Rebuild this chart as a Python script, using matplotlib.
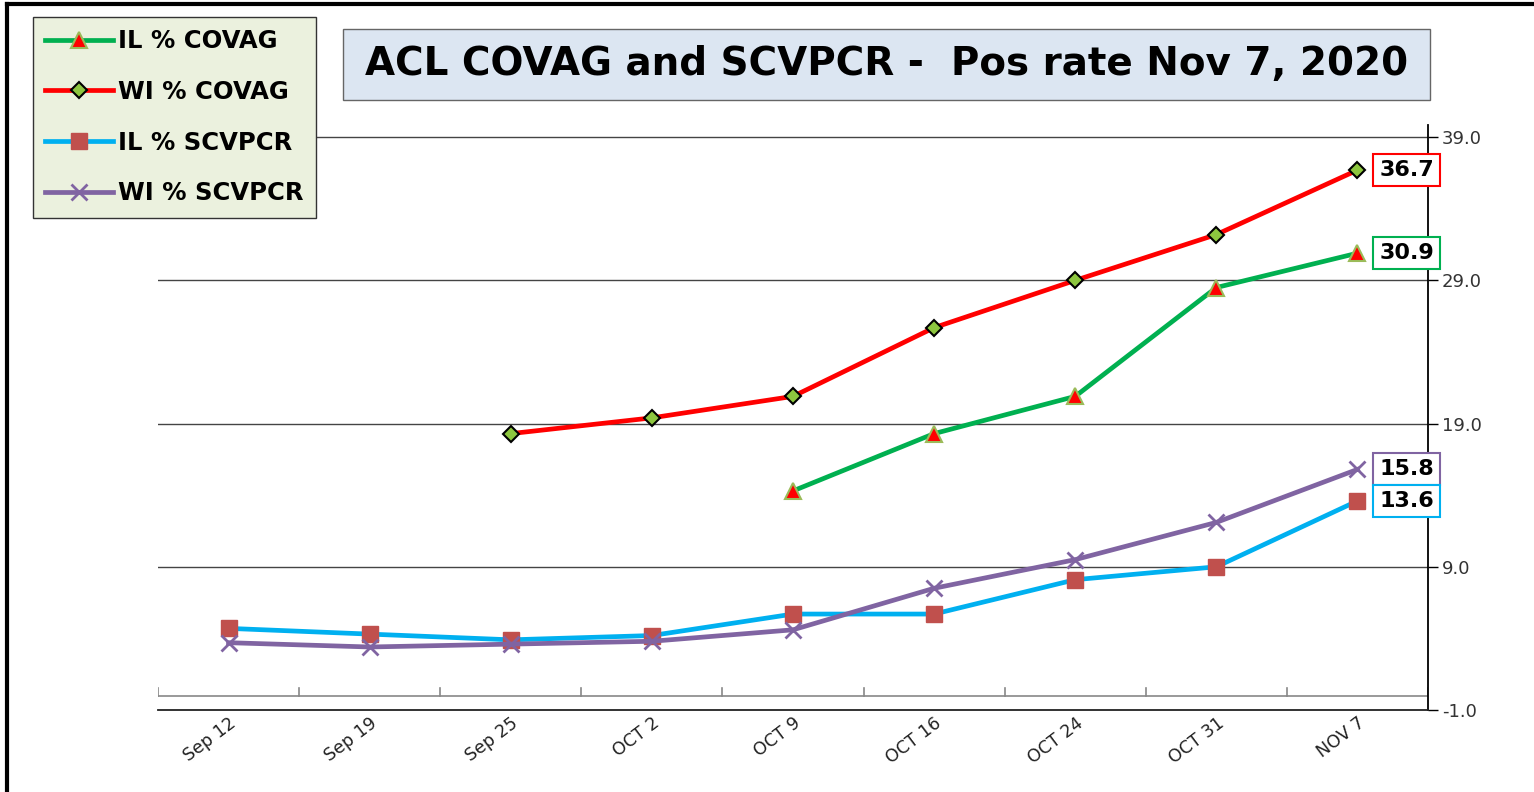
import numpy as np
import matplotlib.pyplot as plt
from matplotlib.lines import Line2D
from matplotlib.patches import Rectangle

plt.rcParams['font.family'] = ['DejaVu Sans']

# Data
weeks = ["Sep 12", "Sep 19", "Sep 25", "OCT 2", "OCT 9", "OCT 16", "OCT 24", "OCT 31", "NOV 7"]
il_covag = [np.nan, np.nan, np.nan, np.nan, 14.3, 18.3, 20.9, 28.5, 30.9]
wi_covag = [np.nan, np.nan, 18.3, 19.4, 20.9, 25.7, 29.0, 32.2, 36.7]
il_scvpcr = [4.7, 4.3, 3.9, 4.2, 5.7, 5.7, 8.1, 9.0, 13.6]
wi_scvpcr = [3.7, 3.4, 3.6, 3.8, 4.6, 7.5, 9.5, 12.1, 15.8]
y_ticks = [-1.0, 9.0, 19.0, 29.0, 39.0]
title = "ACL COVAG and SCVPCR -  Pos rate Nov 7, 2020"

fig = plt.figure(figsize=(15.34, 7.92), dpi=100)
ax = fig.add_axes([158 / 1534, 1 - 710 / 792, (1428 - 158) / 1534, (710 - 125) / 792])

x = np.arange(len(weeks))

# gridlines (not at the bottom)
for yv in y_ticks[1:]:
    ax.axhline(yv, color="#444444", linewidth=1.0, zorder=1)

# category axis line at y=0 with ticks between categories
ax.axhline(0, color="#888888", linewidth=1.2, zorder=1)
for b in np.arange(-0.5, len(weeks), 1.0):
    ax.plot([b, b], [0, 0.55], color="#888888", linewidth=1.2, zorder=1)

ax.plot(x, il_covag, color="#00B050", linewidth=3.4, marker="^", markersize=12,
        markerfacecolor="#FF0000", markeredgecolor="#9BBB59", markeredgewidth=1.5,
        label="IL % COVAG", zorder=3)
ax.plot(x, wi_covag, color="#FF0000", linewidth=3.4, marker="D", markersize=8.5,
        markerfacecolor="#8DC63F", markeredgecolor="#000000", markeredgewidth=1.5,
        label="WI % COVAG", zorder=3)
ax.plot(x, il_scvpcr, color="#00B0F0", linewidth=3.4, marker="s", markersize=12,
        markerfacecolor="#C0504D", markeredgecolor="#C0504D",
        label="IL % SCVPCR", zorder=3)
ax.plot(x, wi_scvpcr, color="#8064A2", linewidth=3.4, marker="x", markersize=11,
        markeredgewidth=2, label="WI % SCVPCR", zorder=3)

ax.set_xlim(-0.5, len(weeks) - 0.5)
ax.set_ylim(-1.0, 39.85)

for side in ["top", "left"]:
    ax.spines[side].set_visible(False)
ax.spines["bottom"].set_color("#222222")
ax.spines["right"].set_color("#000000")
ax.spines["bottom"].set_linewidth(1.3)
ax.spines["right"].set_linewidth(1.3)

ax.yaxis.tick_right()
ax.set_yticks(y_ticks)
ax.set_yticklabels([f"{v:.1f}" for v in y_ticks], fontsize=13, color="#333333")
ax.tick_params(axis="y", direction="out", length=7, width=1.0, pad=3)

ax.set_xticks(x)
ax.set_xticklabels(weeks, fontsize=12.5, color="#222222", rotation=37,
                   ha="right", va="top", rotation_mode="anchor")
ax.tick_params(axis="x", length=0, pad=3)

# end-point value labels
end_labels = [(wi_covag, "#FF0000"), (il_covag, "#00B050"),
              (wi_scvpcr, "#8064A2"), (il_scvpcr, "#00B0F0")]
for series, col in end_labels:
    ax.annotate(f"{series[-1]:.1f}", xy=(x[-1], series[-1]), xytext=(22, 0),
                textcoords="offset pixels", ha="left", va="center",
                fontsize=16, fontweight="bold", color="black", zorder=5,
                annotation_clip=False,
                bbox=dict(boxstyle="square,pad=0.27", facecolor="white",
                          edgecolor=col, linewidth=1.5))

# legend
leg = fig.legend(loc="upper left", bbox_to_anchor=(33 / 1534, 1 - 17 / 792),
                 prop={"weight": "bold", "size": 17.5}, frameon=True, fancybox=False,
                 handlelength=2.8, handletextpad=0.2, labelspacing=1.1,
                 borderpad=0.5, borderaxespad=0)
leg.get_frame().set_facecolor("#EBF1DE")
leg.get_frame().set_edgecolor("#333333")
leg.get_frame().set_linewidth(1.0)
leg.get_frame().set_alpha(1)

# title box
fig.text((343 + 1430) / 2 / 1534, 1 - 64 / 792, title, ha="center", va="center",
         fontsize=28, fontweight="bold", color="black")
fig.patches.append(Rectangle((343 / 1534, 1 - 100 / 792), (1430 - 343) / 1534, 71 / 792,
                             transform=fig.transFigure, facecolor="#DCE6F2",
                             edgecolor="#666666", linewidth=1.0, zorder=0))

# outer frame
fig.add_artist(Line2D([7 / 1534, 7 / 1534], [0, 1 - 4 / 792], color="black", linewidth=3,
                      transform=fig.transFigure))
fig.add_artist(Line2D([7 / 1534, 1], [1 - 4 / 792, 1 - 4 / 792], color="black", linewidth=3,
                      transform=fig.transFigure))

fig.savefig("out.png", dpi=100)
